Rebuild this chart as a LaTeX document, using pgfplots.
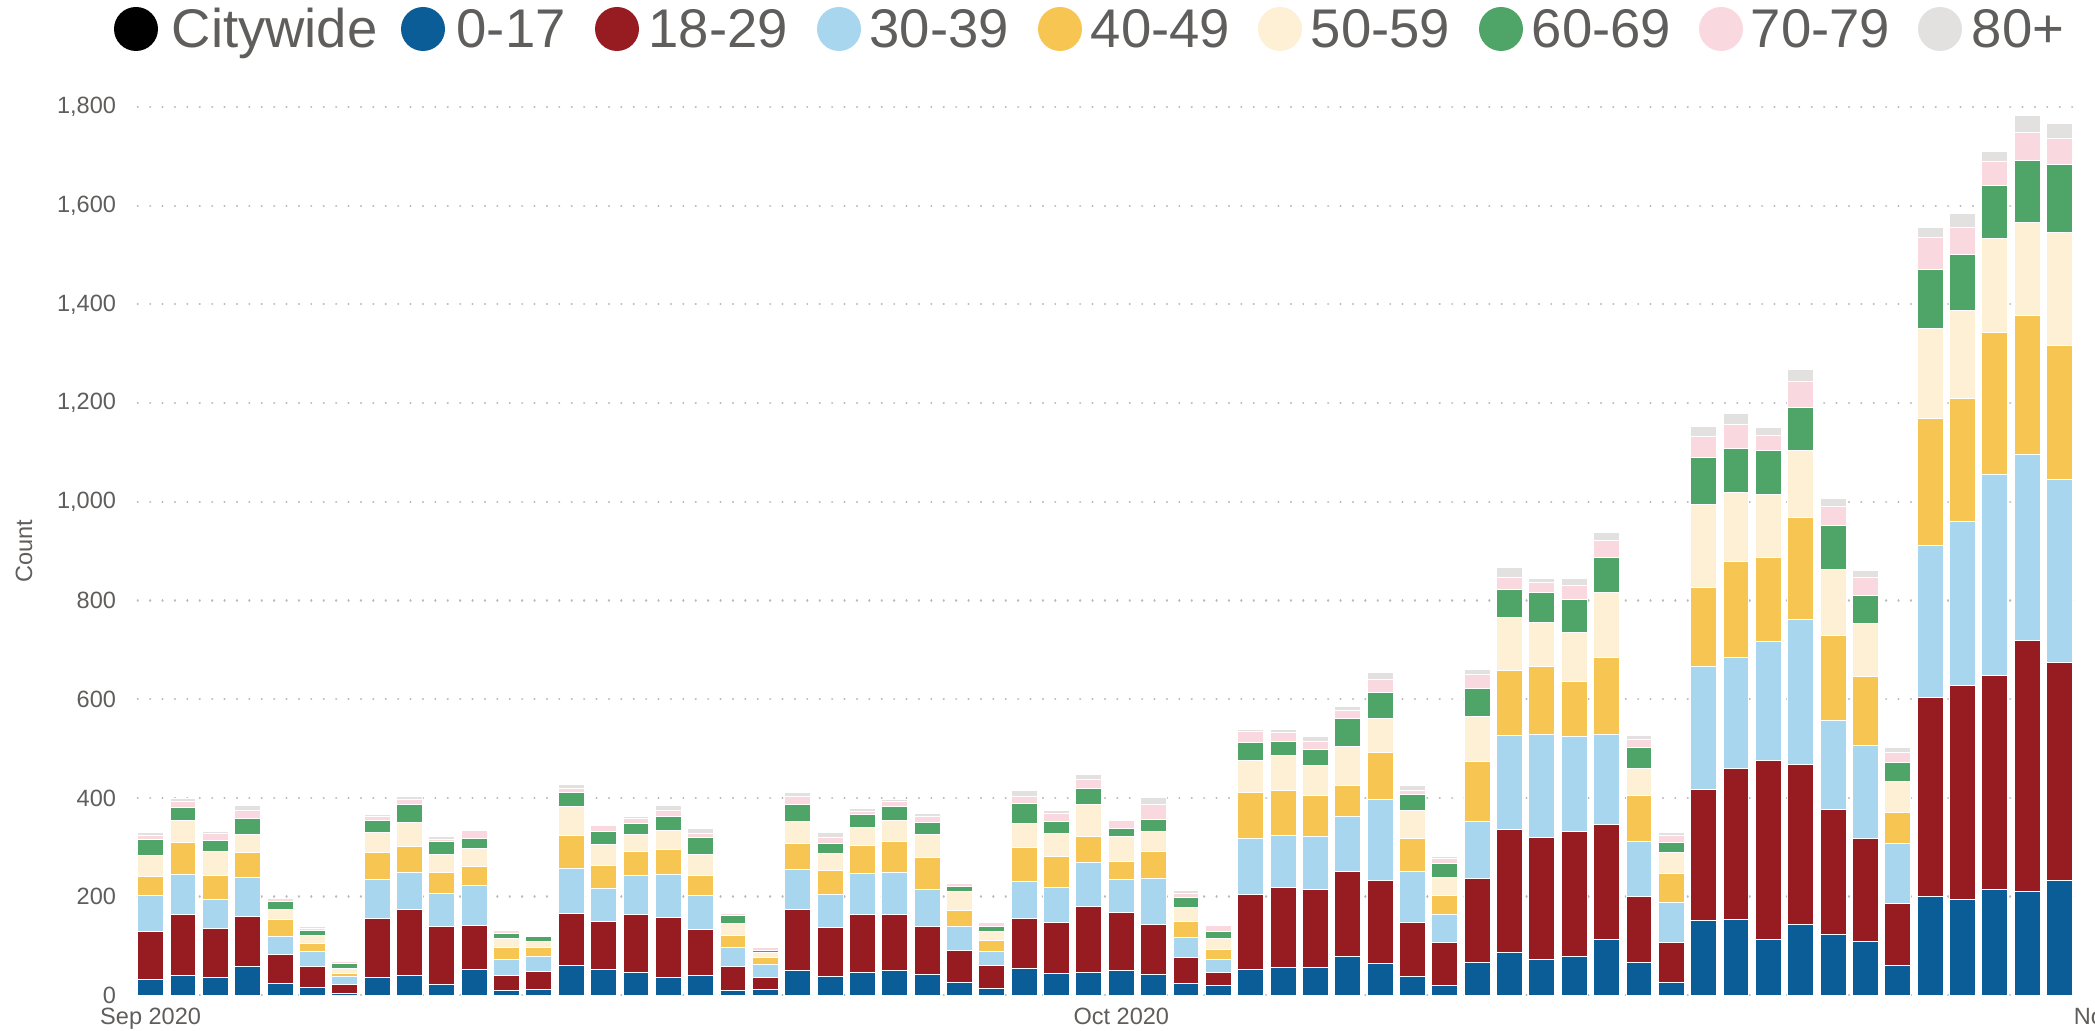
\documentclass[border=0pt]{standalone}
\usepackage{fontspec}
\setmainfont{Liberation Sans}
\usepackage{pgfplots}
\usepackage{pgfplotstable}
\pgfplotsset{compat=1.18}
\definecolor{cA}{HTML}{0B5D97}
\definecolor{cB}{HTML}{961C22}
\definecolor{cC}{HTML}{A8D6EE}
\definecolor{cD}{HTML}{F7C551}
\definecolor{cE}{HTML}{FEF0D4}
\definecolor{cF}{HTML}{4FA567}
\definecolor{cG}{HTML}{F9D9DF}
\definecolor{cH}{HTML}{E3E1DF}
\definecolor{txt}{HTML}{605E5C}
\pgfplotstableread{
x a b c d e f g h
0 32 98 72 38 43 33 7 6
1 40 124 80 65 46 26 12 6
2 36 99 59 49 48 23 13 5
3 58 101 80 50 37 32 16 10
4 24 58 38 33 21 17 5 1
5 16 42 30 17 17 9 4 5
6 4 18 17 5 10 11 3 3
7 36 119 80 55 39 25 9 3
8 41 133 75 53 48 37 9 6
9 22 118 66 43 37 26 4 5
10 52 90 80 39 37 20 15 1
11 10 31 32 24 18 11 5 2
12 12 37 30 18 12 10 3 1
13 61 104 92 66 59 28 9 8
14 53 97 67 47 41 26 14 2
15 47 117 78 49 34 24 10 3
16 37 121 87 51 38 29 12 9
17 40 93 70 40 43 34 8 9
18 10 48 39 24 24 16 4 3
19 12 25 26 14 9 4 7 2
20 51 122 81 54 44 34 17 8
21 38 100 67 48 35 20 12 10
22 47 116 84 56 38 26 5 7
23 50 114 85 63 43 28 9 5
24 43 96 76 65 45 26 11 7
25 25 66 48 32 39 11 5 3
26 14 46 28 24 17 11 7 3
27 55 100 76 68 50 39 14 12
28 45 102 72 63 45 26 16 5
29 47 132 91 52 64 34 18 10
30 51 116 67 38 50 16 16 0
31 43 100 93 55 41 24 30 15
32 24 52 42 32 28 20 8 7
33 19 28 26 19 24 14 11 3
34 53 152 113 92 65 38 21 5
35 57 162 104 92 70 29 18 6
36 57 157 107 84 61 33 16 9
37 78 173 111 64 79 55 18 7
38 65 167 164 97 68 53 26 14
39 38 109 104 67 57 32 8 10
40 20 87 57 39 35 29 10 5
41 66 171 116 120 91 57 30 10
42 86 249 192 132 107 57 24 20
43 72 248 209 137 89 61 20 9
44 78 253 193 112 100 66 29 14
45 113 234 181 156 132 72 34 15
46 67 134 111 93 55 43 16 8
47 26 80 83 58 42 21 14 6
48 151 267 249 160 168 95 43 20
49 154 305 226 195 139 88 50 22
50 113 363 241 170 127 89 32 16
51 143 324 295 207 134 89 51 25
52 124 252 180 174 132 90 38 16
53 109 208 189 141 107 57 35 15
54 60 126 122 62 63 39 19 11
55 200 403 309 257 182 119 65 20
56 195 432 333 250 177 114 55 28
57 215 434 407 288 189 107 49 21
58 210 508 378 281 189 126 57 34
59 233 442 371 271 228 138 54 30
}\datatable
\begin{document}
\begin{tikzpicture}
\begin{axis}[
  at={(13.77mm,3.47mm)}, anchor=south west,
  scale only axis, width=194.13mm, height=88.83mm,
  xmin=-0.4, xmax=59.6, ymin=0, ymax=1800,
  enlargelimits=false, clip=false,
  ybar stacked, bar width=0.8,
  axis line style={draw=none}, tick style={draw=none},
  major tick length=0pt,
  ytick={0,200,...,1800},
  xtick={0,30}, xticklabels={Sep 2020,Oct 2020},
  ymajorgrids,
  major grid style={draw=black!28, line width=0.22mm, dash pattern=on 0.01mm off 1.23mm, line cap=round},
  /pgf/number format/assume math mode=true,
  /pgf/number format/1000 sep={,},
  ticklabel style={font=\fontsize{6.7pt}{8pt}\selectfont, text=txt},
  yticklabel style={anchor=east, inner sep=0pt, xshift=-2.1mm},
  xticklabel style={anchor=north, inner sep=0pt, yshift=-1.2mm},
  ylabel={Count},
  every axis y label/.style={at={(axis description cs:-0.0586,0.5)}, rotate=90, anchor=center, font=\fontsize{6.7pt}{8pt}\selectfont, text=txt},
  every axis plot/.append style={draw=white, line width=0.1mm},
]
\addplot[fill=cA] table[x=x,y=a]{\datatable};
\addplot[fill=cB] table[x=x,y=b]{\datatable};
\addplot[fill=cC] table[x=x,y=c]{\datatable};
\addplot[fill=cD] table[x=x,y=d]{\datatable};
\addplot[fill=cE] table[x=x,y=e]{\datatable};
\addplot[fill=cF] table[x=x,y=f]{\datatable};
\addplot[fill=cG] table[x=x,y=g]{\datatable};
\addplot[fill=cH] table[x=x,y=h]{\datatable};
\node[anchor=north, inner sep=0pt, yshift=-1.2mm, font=\fontsize{6.7pt}{8pt}\selectfont, text=txt] at (axis cs:61,0) {Nov 2020};
\end{axis}
% legend
\begin{scope}[every node/.style={anchor=base west, inner sep=0pt, font=\fontsize{15.5pt}{18pt}\selectfont, text=txt}]
\fill[black] (13.6mm,100.1mm) circle (2.2mm); \node at (17.1mm,98.2mm) {Citywide};
\fill[cA] (42.3mm,100.1mm) circle (2.2mm); \node at (45.6mm,98.2mm) {0-17};
\fill[cB] (61.7mm,100.1mm) circle (2.2mm); \node at (64.8mm,98.2mm) {18-29};
\fill[cC] (83.9mm,100.1mm) circle (2.2mm); \node at (86.9mm,98.2mm) {30-39};
\fill[cD] (106.0mm,100.1mm) circle (2.2mm); \node at (109.0mm,98.2mm) {40-49};
\fill[cE] (128.0mm,100.1mm) circle (2.2mm); \node at (131.0mm,98.2mm) {50-59};
\fill[cF] (150.1mm,100.1mm) circle (2.2mm); \node at (153.1mm,98.2mm) {60-69};
\fill[cG] (172.1mm,100.1mm) circle (2.2mm); \node at (175.0mm,98.2mm) {70-79};
\fill[cH] (194.0mm,100.1mm) circle (2.2mm); \node at (197.1mm,98.2mm) {80+};
\end{scope}
\pgfresetboundingbox
\path[use as bounding box] (0,0) rectangle (209.5mm,103mm);
\end{tikzpicture}
\end{document}
